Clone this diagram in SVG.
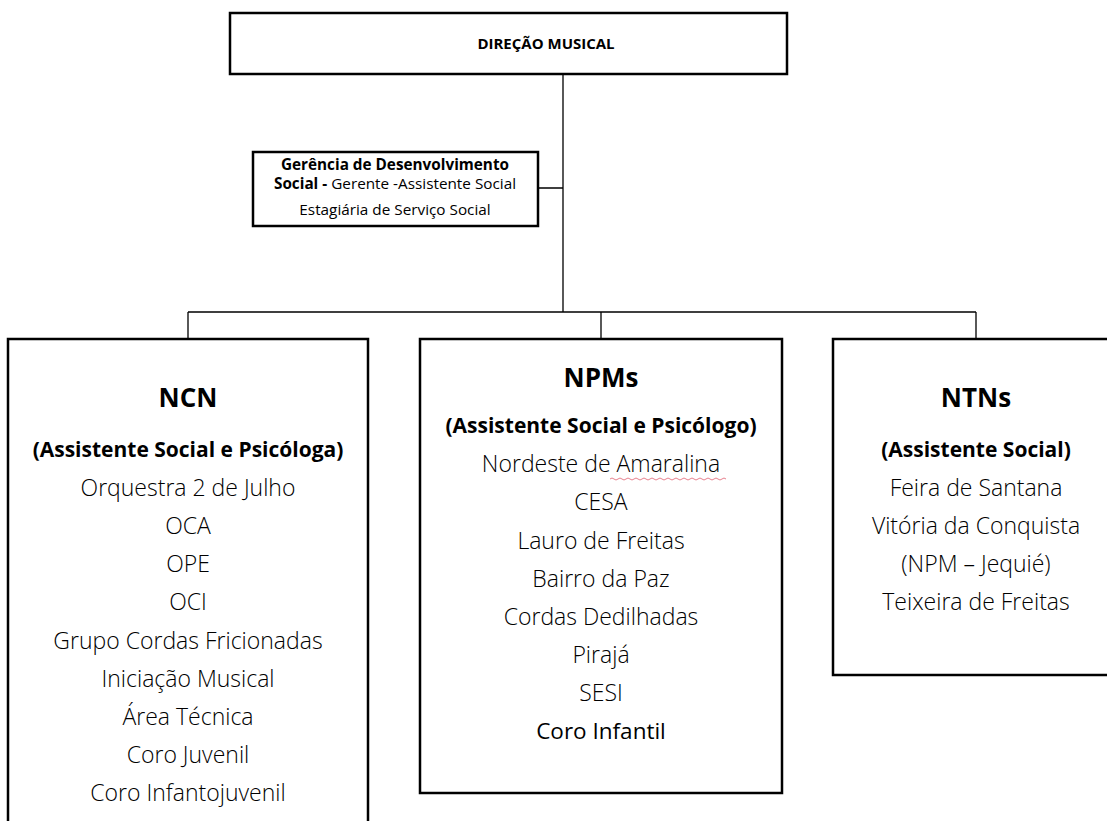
<svg xmlns="http://www.w3.org/2000/svg" width="1107" height="821" viewBox="0 0 1107 821">
<style>
.box{fill:#fff;stroke:#000;stroke-width:2.5}
.ln{fill:none;stroke:#000;stroke-width:1.3}
text{font-family:"Open Sans","Liberation Sans",sans-serif;fill:#000;text-anchor:middle}
.t{font-weight:700;font-size:26px}
.s{font-weight:700;font-size:21px}
.i{font-weight:300;font-size:23px}
.r{font-weight:400;font-size:22.5px}
.g{font-size:15.3px}
</style>
<rect width="1107" height="821" fill="#fff"/>
<g id="connectors">
<path class="ln" d="M563 74V312M538 188H563M188 312H976M188 312V339M601 312V339M976 312V339"/>
</g>
<g id="direcao">
<rect class="box" x="230" y="13" width="557" height="61"/>
<text x="546" y="49" style="font-weight:700;font-size:15px">DIREÇÃO MUSICAL</text>
</g>
<g id="gerencia">
<rect class="box" x="253" y="152" width="285" height="74"/>
<text class="g" x="395" y="170" font-weight="700">Gerência de Desenvolvimento</text>
<text class="g" x="395" y="189"><tspan font-weight="700">Social - </tspan>Gerente -Assistente Social</text>
<text class="g" x="395" y="215">Estagiária de Serviço Social</text>
</g>
<g id="ncn">
<rect class="box" x="8" y="339" width="360" height="500"/>
<text class="t" x="188" y="407">NCN</text>
<text class="s" x="188" y="457">(Assistente Social e Psicóloga)</text>
<text class="i" x="188" y="496">Orquestra 2 de Julho</text>
<text class="i" x="188" y="534">OCA</text>
<text class="i" x="188" y="572">OPE</text>
<text class="i" x="188" y="610">OCI</text>
<text class="i" x="188" y="649">Grupo Cordas Fricionadas</text>
<text class="i" x="188" y="687">Iniciação Musical</text>
<text class="i" x="188" y="725">Área Técnica</text>
<text class="i" x="188" y="763">Coro Juvenil</text>
<text class="i" x="188" y="801">Coro Infantojuvenil</text>
</g>
<g id="npms">
<rect class="box" x="420" y="339" width="362" height="454"/>
<text class="t" x="601" y="387">NPMs</text>
<text class="s" x="601" y="433">(Assistente Social e Psicólogo)</text>
<text class="i" x="601" y="472">Nordeste de Amaralina</text>
<path d="M610 479q2-2 4 0t4 0t4 0t4 0t4 0t4 0t4 0t4 0t4 0t4 0t4 0t4 0t4 0t4 0t4 0t4 0t4 0t4 0t4 0t4 0t4 0t4 0t4 0t4 0t4 0t4 0t4 0t4 0t4 0" fill="none" stroke="#e06070" stroke-width="0.8"/>
<text class="i" x="601" y="510">CESA</text>
<text class="i" x="601" y="549">Lauro de Freitas</text>
<text class="i" x="601" y="587">Bairro da Paz</text>
<text class="i" x="601" y="625">Cordas Dedilhadas</text>
<text class="i" x="601" y="663">Pirajá</text>
<text class="i" x="601" y="701">SESI</text>
<text class="r" x="601" y="739">Coro Infantil</text>
</g>
<g id="ntns">
<rect class="box" x="833" y="339" width="290" height="336"/>
<text class="t" x="976" y="407">NTNs</text>
<text class="s" x="976" y="457">(Assistente Social)</text>
<text class="i" x="976" y="496">Feira de Santana</text>
<text class="i" x="976" y="534">Vitória da Conquista</text>
<text class="i" x="976" y="572">(NPM – Jequié)</text>
<text class="i" x="976" y="610">Teixeira de Freitas</text>
</g>
</svg>
